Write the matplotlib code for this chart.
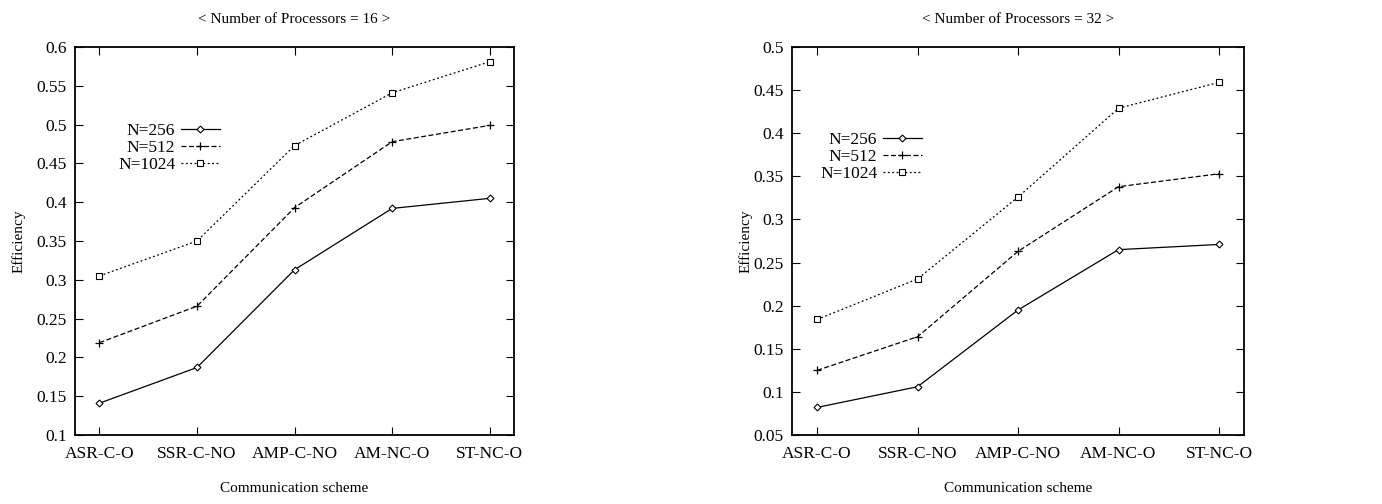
import numpy as np
import matplotlib
matplotlib.use('Agg')
from matplotlib import pyplot as plt

# data
schemes = ['ASR-C-O', 'SSR-C-NO', 'AMP-C-NO', 'AM-NC-O', 'ST-NC-O']
labels = ['N=256', 'N=512', 'N=1024']

# 16 processors
p16_n256 = [0.141, 0.187, 0.313, 0.392, 0.405]
p16_n512 = [0.219, 0.266, 0.393, 0.478, 0.499]
p16_n1024 = [0.305, 0.350, 0.473, 0.541, 0.581]

# 32 processors
p32_n256 = [0.082, 0.106, 0.195, 0.265, 0.271]
p32_n512 = [0.125, 0.164, 0.263, 0.338, 0.353]
p32_n1024 = [0.184, 0.231, 0.326, 0.429, 0.459]

plt.rcParams['font.family'] = ['Liberation Serif', 'DejaVu Serif']

styles = [
	dict(ls='-', marker='D', ms=3.5, mfc='white', mew=0.8),
	dict(ls=(0, (4, 2)), marker='+', ms=6, mew=0.9),
	dict(ls=(0, (1.5, 2)), marker='s', ms=4.5, mfc='white', mew=0.8),
]

def draw_panel(ax, series, ylim, yticks, nproc, leg_anchor, ypad):
	x = np.arange(len(schemes))
	for vals, lab, st in zip(series, labels, styles):
		ax.plot(x, vals, color='black', lw=0.9, label=lab, **st)
	ax.set_xlim(-0.25, len(schemes) - 0.75)
	ax.set_ylim(*ylim)
	ax.set_xticks(x)
	ax.set_xticklabels(schemes)
	ax.set_yticks(yticks)
	ax.set_yticklabels(['%g' % t for t in yticks])
	ax.tick_params(direction='in', top=True, right=True, length=6, width=0.8, labelsize=12.5, pad=6)
	ax.tick_params(axis='x', pad=8)
	for s in ax.spines.values():
		s.set_linewidth(1.3)
	ax.set_xlabel('Communication scheme', fontsize=11, labelpad=14.5)
	ax.set_ylabel('Efficiency', fontsize=11, labelpad=ypad)
	ax.set_title('< Number of Processors = %d >' % nproc, fontsize=11, pad=17)
	leg = ax.legend(loc='upper left', bbox_to_anchor=leg_anchor, frameon=False, markerfirst=False,
		fontsize=12.5, handlelength=2.3, handletextpad=0.3, labelspacing=0.05, borderpad=0, borderaxespad=0)

fig = plt.figure(figsize=(13.82, 5.04), dpi=100)
ax1 = fig.add_axes([0.0543, 0.1369, 0.3177, 0.7698])
ax2 = fig.add_axes([0.5731, 0.1369, 0.3271, 0.7698])

draw_panel(ax1, [p16_n256, p16_n512, p16_n1024], (0.1, 0.6),
	[0.1, 0.15, 0.2, 0.25, 0.3, 0.35, 0.4, 0.45, 0.5, 0.55, 0.6], 16, (0.098, 0.805), 8)
draw_panel(ax2, [p32_n256, p32_n512, p32_n1024], (0.05, 0.5),
	[0.05, 0.1, 0.15, 0.2, 0.25, 0.3, 0.35, 0.4, 0.45, 0.5], 32, (0.062, 0.782), 1)

fig.savefig('out.png', dpi=100)
